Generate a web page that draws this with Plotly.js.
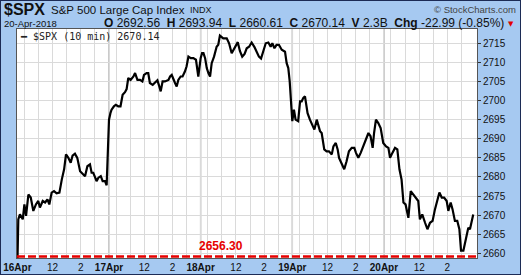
<!DOCTYPE html>
<html>
<head>
<meta charset="utf-8">
<script src="https://cdn.plot.ly/plotly-3.0.1.min.js"></script>
<style>
  html, body { margin: 0; padding: 0; background: #a6c9f1; }
  #wrap { width: 519px; height: 273px; border: 1px solid #1c2b55; background: #a6c9f1; }
  #chart { width: 519px; height: 273px; }
</style>
</head>
<body>
<div id="wrap"><div id="chart"></div></div>
<script>
// 10-minute bar number since the 16-Apr open (39 bars per session) and SPX value
const bar = [
  0, 0.4, 1.1, 2.3, 3.0, 3.7, 4.7, 5.7, 6.8, 7.9, 8.9, 9.6, 10.8, 11.8, 12.8, 13.6, 14.6, 15.6, 16.7, 17.9,
  18.9, 19.9, 20.7, 21.7, 22.7, 23.5, 24.5, 25.5, 26.7, 27.8, 28.8, 29.8, 30.9, 31.6, 32.3, 33.0, 33.7, 34.5, 35.5, 36.3,
  37.3, 38.0,
  39.0, 39.6, 40.1, 41.1, 41.9, 42.9, 43.9, 44.8, 45.8, 46.5, 47.2, 48.2, 49.4, 50.1, 51.1, 52.2, 53.2, 53.9, 55.0, 55.7,
  56.4, 57.6, 58.6, 59.6, 60.4, 61.0, 61.8, 62.8, 64.3, 65.0, 65.7, 66.4, 67.1, 67.8, 68.5, 69.5, 70.3, 71.3, 72.0, 72.8,
  73.8, 74.9, 76.0, 77.0,
  78.0, 78.6, 79.2, 79.9, 80.6, 81.3, 82.0, 82.7, 83.7, 84.8, 85.5, 86.2, 87.6, 89.1, 90.1, 91.2, 92.3, 93.8, 94.7, 95.7,
  96.7, 97.6, 98.6, 99.7, 100.9, 101.8, 102.8, 103.7, 104.7, 105.7, 106.8, 107.8, 108.5, 109.4, 110.3, 111.3, 112.5, 113.9, 114.6, 115.3,
  115.9, 116.4,
  117.0, 117.7, 118.4, 119.5, 120.3, 121.0, 121.7, 122.4, 123.5, 124.5, 125.5, 126.4, 127.4, 128.1, 128.8, 129.5, 130.2, 130.6, 131.6, 132.6,
  133.8, 134.5, 135.5, 136.3, 136.9, 138.0, 139.1, 140.1, 141.1, 142.3, 143.4, 144.1, 145.1, 146.1, 147.2, 148.4, 149.4, 150.3, 151.2, 151.8,
  152.6, 153.6, 154.6, 155.7,
  156.9, 157.9, 158.6, 159.6, 160.7, 161.7, 162.6, 163.5, 164.3, 165.2, 166.4, 167.4, 168.5, 169.6, 170.6, 171.3, 172.3, 173.5, 174.5, 175.6,
  176.7, 177.7, 178.7, 179.6, 180.6, 181.6, 182.7, 183.4, 184.4, 185.2, 186.2, 187.2, 188.1, 188.8, 189.8, 190.9, 191.9, 192.6, 193.3, 194.0
];
const spx = [
  2656.3, 2668.9, 2670.2, 2668.9, 2672.8, 2669.8, 2675.4, 2674.6, 2671.1, 2672.8, 2673.7, 2672.0, 2673.7, 2673.3, 2674.1, 2672.8, 2675.9, 2676.3, 2675.7, 2675.9,
  2679.3, 2682.0, 2685.9, 2685.0, 2683.7, 2685.6, 2686.1, 2685.0, 2681.5, 2680.7, 2680.2, 2682.8, 2683.3, 2681.1, 2681.1, 2680.0, 2678.9, 2679.8, 2680.2, 2678.9,
  2678.9, 2677.8,
  2695.0, 2696.7, 2697.6, 2698.5, 2698.9, 2698.5, 2698.5, 2701.5, 2702.2, 2703.0, 2705.9, 2705.4, 2706.3, 2707.2, 2705.4, 2705.4, 2705.0, 2706.7, 2707.2, 2707.2,
  2704.6, 2704.1, 2704.6, 2705.3, 2703.7, 2702.4, 2705.0, 2705.0, 2705.4, 2706.3, 2706.7, 2705.4, 2704.6, 2703.7, 2705.4, 2706.3, 2706.3, 2707.6, 2708.9, 2711.5,
  2711.1, 2711.1, 2710.7, 2706.3,
  2711.1, 2712.4, 2712.4, 2711.1, 2708.5, 2707.2, 2706.3, 2709.8, 2711.5, 2714.1, 2714.6, 2717.0, 2716.3, 2716.3, 2715.0, 2712.4, 2713.7, 2715.3, 2713.0, 2711.5,
  2712.2, 2713.7, 2714.1, 2715.2, 2714.0, 2713.0, 2711.5, 2711.0, 2713.3, 2715.0, 2715.2, 2714.1, 2715.0, 2713.7, 2714.6, 2714.6, 2713.3, 2712.8, 2709.8, 2708.5,
  2705.0, 2700.5,
  2694.6, 2697.6, 2695.0, 2694.6, 2699.8, 2699.8, 2700.7, 2701.1, 2696.7, 2695.0, 2693.7, 2692.4, 2695.0, 2693.3, 2692.0, 2691.5, 2689.3, 2687.2, 2686.7, 2686.7,
  2685.9, 2688.0, 2688.9, 2687.2, 2685.0, 2683.7, 2682.0, 2684.1, 2686.7, 2687.6, 2687.6, 2686.3, 2685.0, 2686.3, 2688.0, 2689.8, 2691.5, 2690.7, 2687.6, 2691.5,
  2695.0, 2694.1, 2692.8, 2688.9,
  2688.0, 2687.6, 2685.0, 2686.3, 2687.6, 2687.2, 2682.0, 2679.3, 2673.3, 2672.8, 2669.3, 2676.3, 2675.4, 2674.6, 2673.7, 2668.9, 2670.2, 2668.0, 2666.3, 2668.0,
  2668.5, 2671.5, 2673.7, 2675.9, 2674.6, 2674.6, 2673.7, 2671.1, 2673.3, 2671.5, 2668.5, 2668.5, 2666.3, 2660.7, 2660.7, 2663.7, 2666.7, 2666.3, 2668.0, 2670.14
];

const days = ['16Apr', '17Apr', '18Apr', '19Apr', '20Apr'];
const barsPerDay = 39;
const hourOffsets = [3, 9, 15, 21, 27, 33];        // 10:00 ... 15:00
const hourLabels  = ['', '', '12', '', '2', ''];
const yTicks = [2660, 2665, 2670, 2675, 2680, 2685, 2690, 2695, 2700, 2705, 2710, 2715];
const prevClose = 2656.30;

const header = {
  symbol: '$SPX', name: 'S&P 500 Large Cap Index', exch: 'INDX', site: '\u00A9 StockCharts.com',
  date: '20-Apr-2018', open: '2692.56', high: '2693.94', low: '2660.61', close: '2670.14',
  vol: '2.3B', chg: '-22.99', chgPct: '(-0.85%)'
};
const legendText = '$SPX (10 min) 2670.14';

const tickvals = [], ticktext = [];
days.forEach((d, i) => {
  tickvals.push(i * barsPerDay); ticktext.push('<b>' + d + '</b>');
  hourOffsets.forEach((h, j) => { tickvals.push(i * barsPerDay + h); ticktext.push(hourLabels[j]); });
});

const shapes = days.slice(1).map((d, i) => ({
  type: 'line', xref: 'x', yref: 'y domain', x0: (i + 1) * barsPerDay, x1: (i + 1) * barsPerDay,
  y0: 0, y1: 1, line: { color: '#b8b8b8', width: 1.5 }, layer: 'below'
}));
shapes.push({
  type: 'line', xref: 'x domain', yref: 'y domain', x0: 0, x1: 1, y0: 0.0066, y1: 0.0066,
  line: { color: '#e60000', width: 2.5, dash: '8px,3px' }
});

const F = 'Arial, "Liberation Sans", sans-serif';
const sp = '\u00A0\u00A0';
// paper x = (page_x - 17) / 460 ; paper y = (258 - page_y) / 229
const annotations = [
  { text: '<b>' + header.symbol + '</b>', x: -0.031, y: 1.087, xanchor: 'left', yanchor: 'middle', font: { family: F, size: 16, color: '#111' } },
  { text: header.name, x: 0.072, y: 1.083, xanchor: 'left', yanchor: 'middle', font: { family: F, size: 11.5, color: '#111' } },
  { text: header.exch, x: 0.374, y: 1.081, xanchor: 'left', yanchor: 'middle', font: { family: F, size: 9, color: '#111' } },
  { text: header.site, x: 1.087, y: 1.085, xanchor: 'right', yanchor: 'middle', font: { family: F, size: 9.5, color: '#444' } },
  { text: header.date, x: -0.031, y: 1.026, xanchor: 'left', yanchor: 'middle', font: { family: F, size: 9.5, color: '#111' } },
  { text: '<b>O</b> ' + header.open + sp + '<b>H</b> ' + header.high + sp + '<b>L</b> ' + header.low + sp + '<b>C</b> ' + header.close +
          sp + '<b>V</b> ' + header.vol + sp + '<b>Chg</b> ' + header.chg + ' ' + header.chgPct,
    x: 1.061, y: 1.026, xanchor: 'right', yanchor: 'middle', font: { family: F, size: 12, color: '#111' } },
  { text: '\u25BC', x: 1.074, y: 1.024, xanchor: 'center', yanchor: 'middle', font: { family: '"DejaVu Sans", sans-serif', size: 7, color: '#e00000' } },
  { text: '\u2501 ' + legendText, x: 0.004, y: 0.969, xanchor: 'left', yanchor: 'middle', font: { family: '"DejaVu Sans Mono", monospace', size: 10, color: '#222' } },
  { text: '<b>' + prevClose.toFixed(2) + '</b>', x: 0.4435, y: 0.052, xanchor: 'center', yanchor: 'middle', font: { family: F, size: 12, color: '#e60000' } }
].map(a => Object.assign({ xref: 'paper', yref: 'paper', showarrow: false, borderpad: 0 }, a));

const trace = {
  x: bar, y: spx, type: 'scatter', mode: 'lines',
  line: { color: '#000', width: 2.2 }, hoverinfo: 'skip', cliponaxis: true
};

const layout = {
  width: 519, height: 273,
  margin: { l: 16, r: 43, t: 28, b: 16, pad: 0 },
  paper_bgcolor: '#a6c9f1', plot_bgcolor: '#ffffff',
  showlegend: false,
  xaxis: {
    range: [-0.15, 195.6], tickmode: 'array', tickvals: tickvals, ticktext: ticktext,
    showgrid: true, gridcolor: '#dadada', gridwidth: 1, zeroline: false,
    ticks: '', tickfont: { family: F, size: 10, color: '#111' },
    showline: true, mirror: true, linecolor: '#555', linewidth: 1, fixedrange: true
  },
  yaxis: {
    range: [2658.77, 2718.74], side: 'right', tickmode: 'array', tickvals: yTicks,
    showgrid: true, gridcolor: '#dadada', gridwidth: 1, zeroline: false,
    ticks: 'outside', ticklen: 3, tickcolor: '#333', tickfont: { family: F, size: 10, color: '#111' },
    showline: true, mirror: true, linecolor: '#555', linewidth: 1, fixedrange: true
  },
  shapes: shapes,
  annotations: annotations
};

Plotly.newPlot('chart', [trace], layout, { displayModeBar: false, staticPlot: true });
</script>
</body>
</html>
